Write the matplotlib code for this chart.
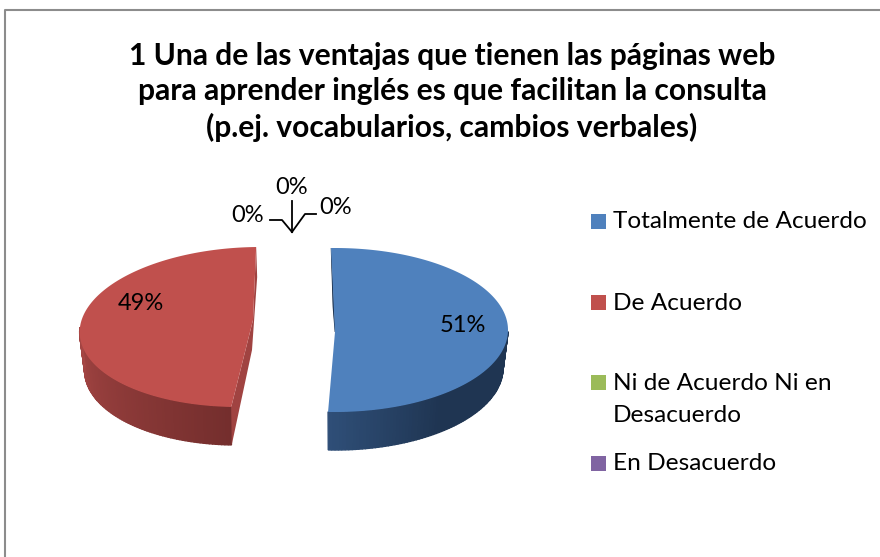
import matplotlib
matplotlib.use('Agg')
import matplotlib.pyplot as plt
import numpy as np

plt.rcParams['font.family'] = ['Lato', 'DejaVu Sans']

title = '1 Una de las ventajas que tienen las páginas web\npara aprender inglés es que facilitan la consulta\n(p.ej. vocabularios, cambios verbales)'
categories = ['Totalmente de Acuerdo', 'De Acuerdo', 'Ni de Acuerdo Ni en\nDesacuerdo', 'En Desacuerdo']
values = [51, 49, 0, 0]
colors = ['#4F81BD', '#C0504D', '#9BBB59', '#8064A2']
wall_light = ['#2F4F78', '#A64644']
wall_dark = ['#1F3552', '#742E2D']

# rim centre, apex, radii and lean of each exploded slice, in pixels
centers = [(335, 330), (249, 327)]
apexes = [(335, 332), (253, 320)]
radius_x = [173, 169]
radius_y = [82, 80]
lean = [0, 11]
depth = 38
start = 91.3

fig = plt.figure(figsize=(8.8, 5.57), dpi=100)
ax = fig.add_axes([0, 0, 1, 1])
ax.set_xlim(0, 880)
ax.set_ylim(557, 0)
ax.axis('off')

# chart border, runs off the right and bottom of the picture
ax.plot([5, 5, 880], [557, 9.5, 9.5], color='#8C8C8C', lw=1.5, solid_capstyle='butt')

ax.text(452, 92, title, ha='center', va='center', fontsize=21.6, fontweight='bold',
        linespacing=1.33, color='black')


def rim(i, th, shrink=0, drop=0):
    t = np.radians(th)
    s = np.sin(t)
    x = centers[i][0] + (radius_x[i] - shrink) * np.cos(t) + lean[i] * s
    y = centers[i][1] - radius_y[i] * s + drop
    return x, y


angle = start
for i in range(2):
    sweep = values[i] / sum(values) * 360
    th = np.linspace(angle, angle - sweep, 160)
    x0, y0 = rim(i, th)

    # side wall, front half only, shaded in narrow bands
    front = th[np.sin(np.radians(th)) <= 0]
    c0 = np.array(matplotlib.colors.to_rgb(wall_light[i]))
    c1 = np.array(matplotlib.colors.to_rgb(wall_dark[i]))
    for j in range(len(front) - 1):
        a = front[j:j + 2]
        xt, yt = rim(i, a)
        xb, yb = rim(i, a[::-1], shrink=5, drop=depth)
        if i == 0:
            f = min(1, (a[0] + 92.3) / 40)
        else:
            f = 1 - (-a[0] - 92.3) / 87.7
        col = c0 + (c1 - c0) * f
        ax.fill(np.r_[xt, xb], np.r_[yt, yb], color=col, lw=1)

    # cut face seen behind the apex
    px, py = apexes[i]
    if i == 1:
        ax.fill([x0[-1], x0[-1] + 1, px - 1, x0[0] + 0.5, x0[0], px],
                [y0[-1], y0[-1] + 30, py + 30, y0[0] + depth, y0[0], py],
                color='#A04341', lw=0)
    else:
        ax.fill([x0[0], px, px - 2], [y0[0], py, py - 25], color='#1F3552', lw=0.5)

    # top face
    ax.fill(np.r_[px, x0], np.r_[py, y0], color=colors[i], lw=0)
    angle -= sweep

# data labels
pct_labels = ['51%', '49%', '0%', '0%', '0%']
pct_x = [463, 141, 248, 292, 336]
pct_y = [326, 303, 215, 187, 208]
for s, x, y in zip(pct_labels, pct_x, pct_y):
    ax.text(x, y, s, ha='center', va='center', fontsize=17, color='black')

# leader lines of the empty slices
ax.plot([270, 282, 292], [220, 220, 232], color='black', lw=1.3)
ax.plot([292, 292], [201, 232], color='black', lw=1.3)
ax.plot([316, 305, 292], [214, 214, 232], color='black', lw=1.3)

# legend
legend_y = [221.5, 302.5, 382.5, 463.5]
for c, name, y in zip(colors, categories, legend_y):
    ax.add_patch(plt.Rectangle((591, y - 7.5), 15, 15, color=c, lw=0))
    ax.text(613, y + 0.5, name.split('\n')[0], ha='left', va='center', fontsize=17.6, color='black')
    if '\n' in name:
        ax.text(613, y + 33, name.split('\n')[1], ha='left', va='center', fontsize=17.6, color='black')

fig.savefig('out.png', dpi=100)
